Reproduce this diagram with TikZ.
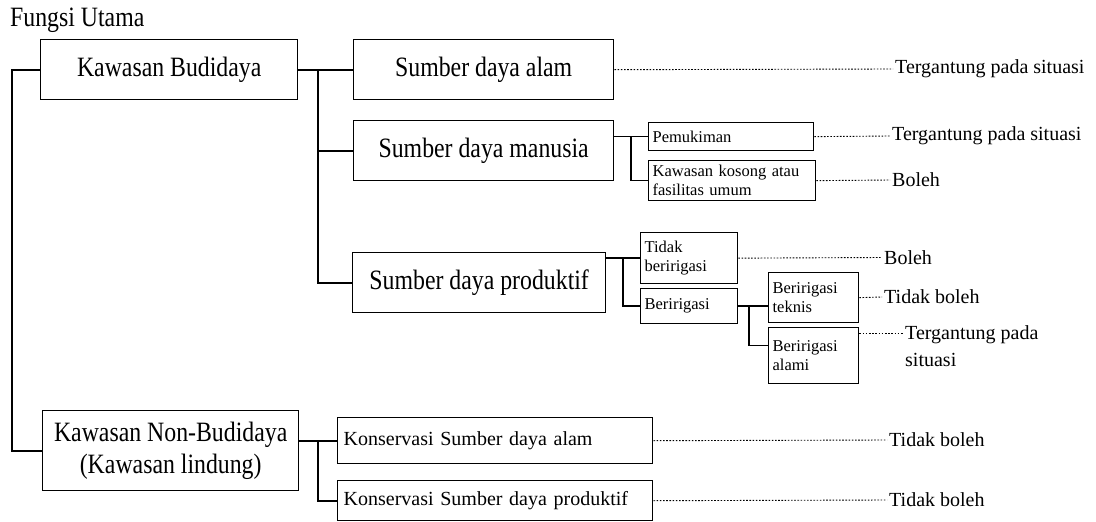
\documentclass[tikz,border=0pt]{standalone}
\usepackage{fontspec}
\setmainfont{Liberation Serif}
\newfontfamily\condserif[FakeStretch=0.85]{Liberation Serif}
\usetikzlibrary{calc}
\tikzset{
  mainbox/.style={draw, line width=1.4pt, inner sep=0pt, anchor=north west, align=center,
    font=\condserif\fontsize{28}{32}\selectfont},
  konbox/.style={draw, line width=1.4pt, inner xsep=6pt, inner ysep=0pt, anchor=north west, align=left,
    font=\fontsize{20}{24}\selectfont},
  smallbox/.style={draw, line width=1.3pt, inner xsep=4pt, inner ysep=0pt, anchor=north west, align=left,
    font=\fontsize{16.5}{19}\selectfont},
  verdict/.style={anchor=west, inner xsep=2pt, inner ysep=0pt, align=left, font=\fontsize{20}{27}\selectfont},
  conn/.style={line width=1.6pt},
  dotline/.style={line width=0.9pt, dash pattern=on 1.6pt off 1.6pt}
}
\begin{document}
\begin{tikzpicture}[x=1pt,y=-1pt]
  \path[use as bounding box] (0,0) rectangle (1096,522);

  % Title
  \node[anchor=base west, inner sep=0pt, font=\condserif\fontsize{28}{32}\selectfont] (judul) at (10,27) {Fungsi Utama};

  % Main boxes
  \node[mainbox, minimum width=257pt, minimum height=60pt] (bud) at (40,39) {Kawasan Budidaya};
  \node[mainbox, minimum width=256pt, minimum height=80pt] (nbud) at (42,410) {Kawasan Non-Budidaya\\(Kawasan lindung)};

  \node[mainbox, minimum width=260pt, minimum height=60pt] (sda) at (353,39) {Sumber daya alam};
  \node[mainbox, minimum width=260pt, minimum height=60pt] (sdm) at (353,120) {Sumber daya manusia};
  \node[mainbox, minimum width=253pt, minimum height=60pt] (sdp) at (352,252) {Sumber daya produktif};

  \node[konbox, text width=303pt, minimum height=46pt] (ksa) at (337,417) {Konservasi Sumber daya alam};
  \node[konbox, text width=303pt, minimum height=40pt] (ksp) at (337,480) {Konservasi Sumber daya produktif};

  % Sub boxes
  \node[smallbox, text width=157pt, minimum height=28pt] (pem) at (648,122) {Pemukiman};
  \node[smallbox, text width=159pt, minimum height=40pt] (kos) at (648,160) {Kawasan kosong atau\\fasilitas umum};
  \node[smallbox, text width=89pt, minimum height=51pt] (tid) at (640,232) {Tidak\\beririgasi};
  \node[smallbox, text width=89pt, minimum height=35pt] (ber) at (640,288) {Beririgasi};
  \node[smallbox, text width=82pt, minimum height=50pt] (tek) at (768,272) {Beririgasi\\teknis};
  \node[smallbox, text width=82pt, minimum height=56pt] (alm) at (768,327) {Beririgasi\\alami};

  % Verdicts
  \node[verdict] (vsda) at (893,69) {Tergantung pada situasi};
  \node[verdict] (vpem) at (890,136) {Tergantung pada situasi};
  \node[verdict] (vkos) at (890,180) {Boleh};
  \node[verdict] (vtid) at (882,257.5) {Boleh};
  \node[verdict] (vtek) at (882,297) {Tidak boleh};
  \node[verdict, anchor=north west] (valm) at (903,325) {Tergantung pada\\situasi};
  \node[verdict] (vksa) at (887,440) {Tidak boleh};
  \node[verdict] (vksp) at (887,500) {Tidak boleh};

  % Tree connectors
  \draw[conn] (bud.west) -- ++(-28,0) |- (nbud.west);
  \draw[conn] (bud.east) -- (sda.west);
  \draw[conn] ($(bud.east)!0.36!(sda.west)$) |- (sdm.west);
  \draw[conn] ($(bud.east)!0.36!(sda.west)$) |- (sdp.west);

  \draw[conn] (sdm.east |- pem.west) -- (pem.west);
  \draw[conn] ($(sdm.east |- pem.west)!0.5!(pem.west)$) |- (kos.west);

  \draw[conn] (sdp.east |- tid.west) -- (tid.west);
  \draw[conn] ($(sdp.east |- tid.west)!0.5!(tid.west)$) |- (ber.west);

  \draw[conn] (ber.east) -- (ber.east -| tek.west);
  \draw[conn] ($(ber.east)!0.35!(ber.east -| tek.west)$) |- ([yshift=10pt]alm.west);

  \draw[conn] (nbud.east |- ksa.west) -- (ksa.west);
  \draw[conn] ($(nbud.east |- ksa.west)!0.5!(ksa.west)$) |- (ksp.west);

  % Dotted leaders
  \draw[dotline] (sda.east) -- (vsda.west);
  \draw[dotline] (pem.east) -- (vpem.west);
  \draw[dotline] (kos.east) -- (vkos.west);
  \draw[dotline] (tid.east) -- (vtid.west);
  \draw[dotline] (tek.east) -- (vtek.west);
  \draw[dotline] ([yshift=22pt]alm.east) -- ([yshift=22pt]alm.east -| valm.west);
  \draw[dotline] (ksa.east) -- (vksa.west);
  \draw[dotline] (ksp.east) -- (vksp.west);
\end{tikzpicture}
\end{document}
